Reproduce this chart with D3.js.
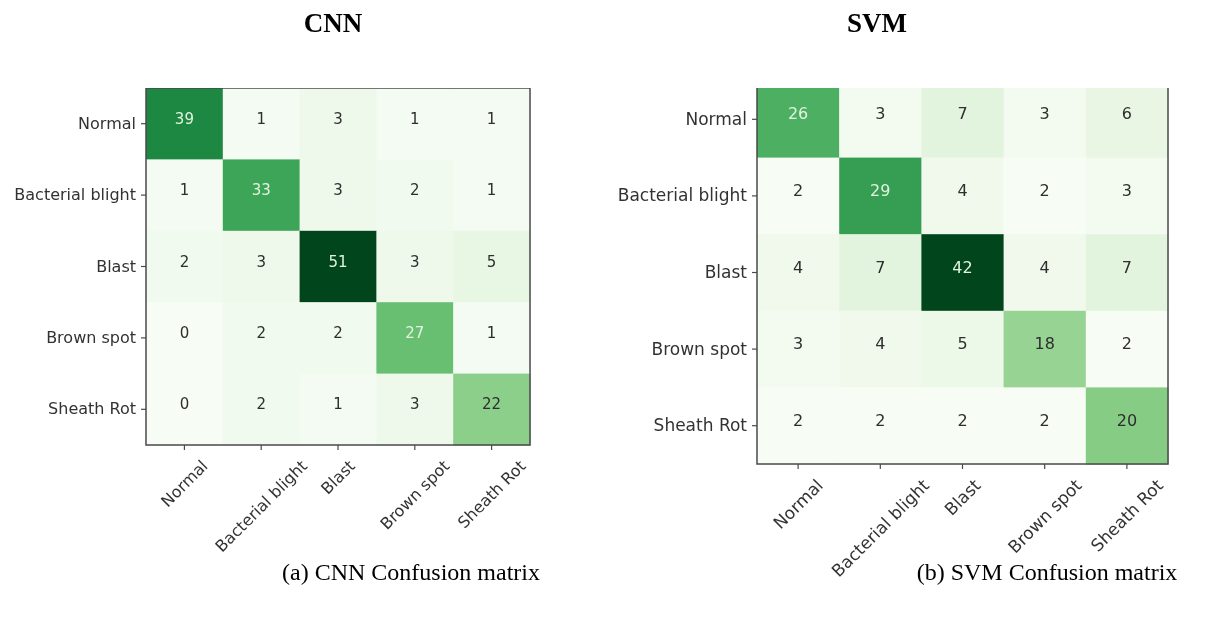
<!DOCTYPE html>
<html>
<head>
<meta charset="utf-8">
<script src="https://cdn.jsdelivr.net/npm/d3@7"></script>
<style>
  html, body { margin: 0; padding: 0; background: #fff; }
  svg { display: block; }
  .tick text { fill: #333; }
</style>
</head>
<body>
<svg id="chart" width="1213" height="619"></svg>
<script>
// Class labels shared by both confusion matrices (rows = true, columns = predicted)
const classes = ["Normal", "Bacterial blight", "Blast", "Brown spot", "Sheath Rot"];

// CNN confusion matrix counts
const cnnMatrix = [
  [39, 1, 3, 1, 1],
  [1, 33, 3, 2, 1],
  [2, 3, 51, 3, 5],
  [0, 2, 2, 27, 1],
  [0, 2, 1, 3, 22]
];

// SVM confusion matrix counts
const svmMatrix = [
  [26, 3, 7, 3, 6],
  [2, 29, 4, 2, 3],
  [4, 7, 42, 4, 7],
  [3, 4, 5, 18, 2],
  [2, 2, 2, 2, 20]
];

const panelTitles = ["CNN", "SVM"];
const captions = ["(a) CNN Confusion matrix", "(b) SVM Confusion matrix"];

const svg = d3.select("#chart");
const defs = svg.append("defs");

// the matrix panels are rendered slightly soft
defs.append("filter").attr("id", "soft")
  .attr("x", "-5%").attr("y", "-5%").attr("width", "110%").attr("height", "110%")
  .append("feGaussianBlur").attr("stdDeviation", 0.55);

function drawMatrix(cfg) {
  const { data, x0, x1, y0, y1, clipTop, fontSize, cellFont, id } = cfg;
  const flat = data.flat();
  const vmin = d3.min(flat), vmax = d3.max(flat);
  const color = d3.scaleSequential(d3.interpolateGreens).domain([vmin, vmax]);
  const thresh = (vmax + vmin) / 2;

  const x = d3.scaleBand().domain(classes).range([x0, x1]).padding(0);
  const y = d3.scaleBand().domain(classes).range([y0, y1]).padding(0);

  const g = svg.append("g").attr("class", "panel-" + id).attr("filter", "url(#soft)");

  // the top of the panel is cut off at clipTop
  defs.append("clipPath").attr("id", "clip-" + id)
    .append("rect")
    .attr("x", x0 - 200).attr("y", clipTop)
    .attr("width", (x1 - x0) + 400).attr("height", y1 - clipTop + 200);

  const body = g.append("g").attr("clip-path", `url(#clip-${id})`);

  const cells = [];
  data.forEach((row, i) => row.forEach((v, j) => cells.push({ r: classes[i], c: classes[j], v })));

  body.selectAll("rect.cell").data(cells).join("rect")
    .attr("class", "cell")
    .attr("x", d => x(d.c))
    .attr("y", d => y(d.r))
    .attr("width", x.bandwidth() + 0.5)
    .attr("height", y.bandwidth() + 0.5)
    .attr("fill", d => color(d.v));

  body.selectAll("text.val").data(cells).join("text")
    .attr("class", "val")
    .attr("x", d => x(d.c) + x.bandwidth() / 2)
    .attr("y", d => y(d.r) + y.bandwidth() * 0.43)
    .attr("text-anchor", "middle")
    .attr("dominant-baseline", "central")
    .attr("font-family", "DejaVu Sans, sans-serif")
    .attr("font-size", cellFont)
    .attr("fill", d => d.v > thresh ? "#e3f3e0" : "#2e2e2e")
    .text(d => d.v);

  // frame
  body.append("rect")
    .attr("x", x0).attr("y", y0)
    .attr("width", x1 - x0).attr("height", y1 - y0)
    .attr("fill", "none")
    .attr("stroke", "#4a4a4a")
    .attr("stroke-width", 1.5);

  // left axis (true labels)
  const yAxis = g.append("g")
    .attr("transform", `translate(${x0},0)`)
    .call(d3.axisLeft(y).tickSize(5).tickPadding(5));
  yAxis.select(".domain").remove();
  yAxis.selectAll(".tick line").attr("stroke", "#4a4a4a").attr("stroke-width", 1.2);
  yAxis.selectAll(".tick text")
    .attr("font-family", "DejaVu Sans, sans-serif")
    .attr("font-size", fontSize);

  // bottom axis (predicted labels), rotated 45 degrees and centred under each tick
  const xAxis = g.append("g")
    .attr("transform", `translate(0,${y1})`)
    .call(d3.axisBottom(x).tickSize(5).tickFormat(""));
  xAxis.select(".domain").remove();
  xAxis.selectAll(".tick line").attr("stroke", "#4a4a4a").attr("stroke-width", 1.2);

  const labelTop = y1 + 14;
  const s = Math.SQRT1_2;
  const capH = fontSize * 0.73;
  g.append("g").selectAll("text").data(classes).join("text")
    .attr("font-family", "DejaVu Sans, sans-serif")
    .attr("font-size", fontSize)
    .attr("fill", "#333")
    .attr("text-anchor", "middle")
    .attr("dominant-baseline", "central")
    .text(d => d)
    .each(function (d) {
      const w = this.getComputedTextLength();
      const h = (w + capH) * s;
      const cx = x(d) + x.bandwidth() / 2;
      const cy = labelTop + h / 2;
      d3.select(this)
        .attr("x", 0).attr("y", 0)
        .attr("transform", `translate(${cx},${cy}) rotate(-45)`);
    });
}

drawMatrix({ id: "cnn", data: cnnMatrix, x0: 146, x1: 530, y0: 88, y1: 445, clipTop: 88, fontSize: 16, cellFont: 15 });
drawMatrix({ id: "svm", data: svmMatrix, x0: 757, x1: 1168, y0: 81, y1: 464, clipTop: 88, fontSize: 17, cellFont: 16 });

// panel titles
svg.selectAll("text.title").data(panelTitles).join("text")
  .attr("class", "title")
  .attr("x", (d, i) => [333, 877][i])
  .attr("y", 32)
  .attr("text-anchor", "middle")
  .attr("font-family", "Liberation Serif, Times New Roman, serif")
  .attr("font-weight", "bold")
  .attr("font-size", 27)
  .attr("fill", "#000")
  .text(d => d);

// sub-figure captions
svg.selectAll("text.caption").data(captions).join("text")
  .attr("class", "caption")
  .attr("x", (d, i) => [411, 1047][i])
  .attr("y", 580)
  .attr("text-anchor", "middle")
  .attr("font-family", "Liberation Serif, Times New Roman, serif")
  .attr("font-size", 24)
  .attr("fill", "#000")
  .text(d => d);
</script>
</body>
</html>
